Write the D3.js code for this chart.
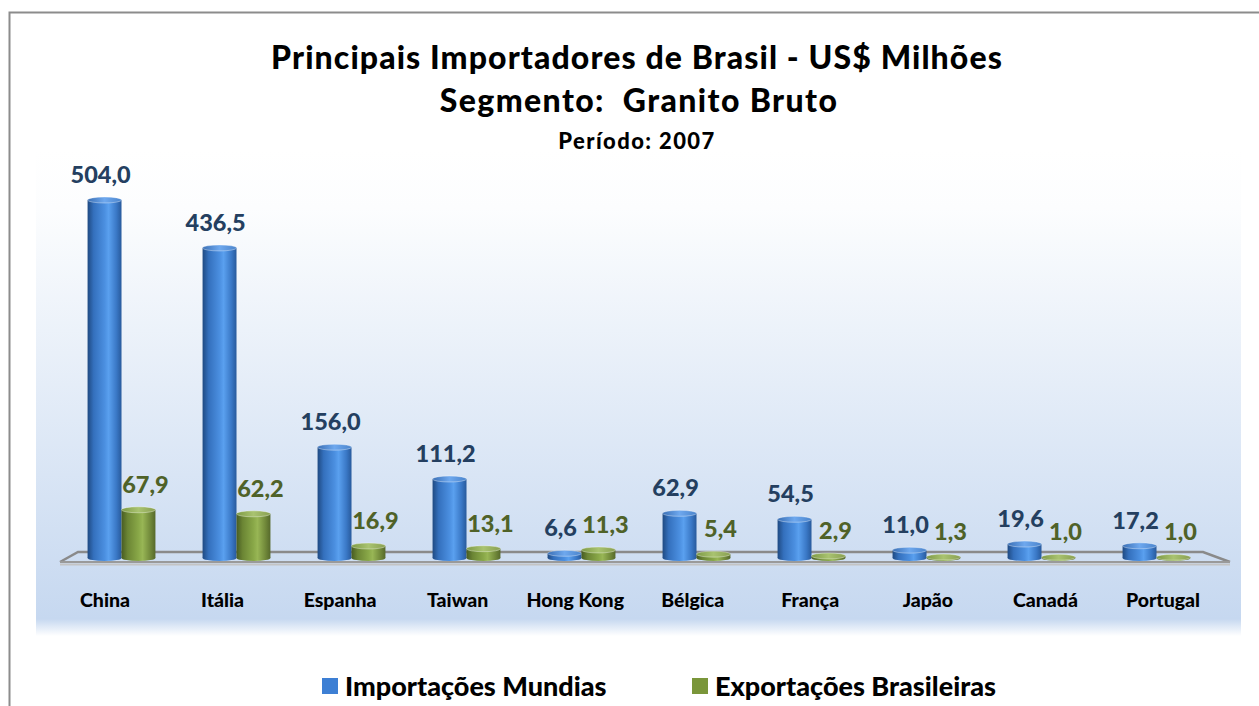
<!DOCTYPE html>
<html>
<head>
<meta charset="utf-8">
<script src="https://cdn.jsdelivr.net/npm/d3@7"></script>
<style>
  body { margin: 0; background: #fff; }
  text { font-family: Lato, "Open Sans", sans-serif; font-weight: 900; }
</style>
</head>
<body>
<div id="chart"></div>
<script>
//Data
const categories = ["China", "Itália", "Espanha", "Taiwan", "Hong Kong", "Bélgica", "França", "Japão", "Canadá", "Portugal"];
const importacoes = [504.0, 436.5, 156.0, 111.2, 6.6, 62.9, 54.5, 11.0, 19.6, 17.2];
const exportacoes = [67.9, 62.2, 16.9, 13.1, 11.3, 5.4, 2.9, 1.3, 1.0, 1.0];
const seriesNames = ["Importações Mundias", "Exportações Brasileiras"];

//Variables
let width = 1259, height = 706;
let fmt = v => d3.format(".1f")(v).replace(".", ",");

let svg = d3.select("#chart").append("svg")
  .attr("width", width)
  .attr("height", height);

let defs = svg.append("defs");

//Plot area background, white on top fading to light blue
let bg = defs.append("linearGradient").attr("id", "bgGrad")
  .attr("x1", 0).attr("y1", 0).attr("x2", 0).attr("y2", 1);
[[0, "#ffffff"], [0.12, "#fcfdfe"], [0.965, "#c6d8f0"], [1, "#ffffff"]].forEach(s =>
  bg.append("stop").attr("offset", s[0]).attr("stop-color", s[1]));

//Cylinder shading
function cyl(id, stops) {
  let g = defs.append("linearGradient").attr("id", id)
    .attr("x1", 0).attr("y1", 0).attr("x2", 1).attr("y2", 0);
  stops.forEach(s => g.append("stop").attr("offset", s[0]).attr("stop-color", s[1]));
}
cyl("blueGrad", [[0, "#1f4a82"], [0.18, "#3470bd"], [0.5, "#4b8fe0"], [0.62, "#5aa0ef"], [0.85, "#3a78c6"], [1, "#285a9c"]]);
cyl("greenGrad", [[0, "#485c22"], [0.18, "#6b8534"], [0.5, "#89a848"], [0.62, "#98b655"], [0.85, "#71893a"], [1, "#56692b"]]);
cyl("blueTop", [[0, "#3a6fb5"], [0.5, "#6ea8ee"], [1, "#4a84cc"]]);
cyl("greenTop", [[0, "#7e9a45"], [0.5, "#a9c370"], [1, "#889f50"]]);

//Outer border
svg.append("rect")
  .attr("x", 9.5).attr("y", 12.5)
  .attr("width", width + 20).attr("height", height + 20)
  .attr("fill", "none").attr("stroke", "#8c8c8c").attr("stroke-width", 2);

svg.append("rect")
  .attr("x", 36).attr("y", 150)
  .attr("width", 1205).attr("height", 486)
  .attr("fill", "url(#bgGrad)");

//Titles
svg.append("text").attr("x", 637).attr("y", 69).attr("text-anchor", "middle")
  .attr("font-size", 32).attr("fill", "#000").style("letter-spacing", "1.1px")
  .text("Principais Importadores de Brasil - US$ Milhões");
svg.append("text").attr("x", 639).attr("y", 112).attr("text-anchor", "middle")
  .attr("font-size", 32).attr("fill", "#000").style("letter-spacing", "1.4px")
  .attr("xml:space", "preserve")
  .text("Segmento:  Granito Bruto");
svg.append("text").attr("x", 637).attr("y", 149).attr("text-anchor", "middle")
  .attr("font-size", 22).attr("fill", "#000").style("letter-spacing", "1.4px")
  .text("Período: 2007");

//Scales
let x = d3.scaleBand().domain(categories).range([64, 1214]).paddingInner(0.41).paddingOuter(0.205);
let xs = d3.scaleBand().domain([0, 1]).range([0, x.bandwidth()]);
let xLabel = d3.scalePoint().domain(categories).range([105, 1163]);
let y = d3.scaleLinear().domain([0, 504]).range([558, 200]);

//Floor
let floor = svg.append("g");
floor.append("path")
  .attr("d", "M60,562 L78,552 L1203,552 L1230,562")
  .attr("fill", "none").attr("stroke", "#8a8a8a").attr("stroke-width", 2.5);
floor.append("line").attr("x1", 60).attr("x2", 1230).attr("y1", 562).attr("y2", 562)
  .attr("stroke", "#9a9a9a").attr("stroke-width", 2);
floor.append("line").attr("x1", 60).attr("x2", 1230).attr("y1", 564.5).attr("y2", 564.5)
  .attr("stroke", "#c4c4c4").attr("stroke-width", 2);

//Bars
let series = [
  {values: importacoes, fill: "url(#blueGrad)", top: "url(#blueTop)", label: "#243f60", dx: -4},
  {values: exportacoes, fill: "url(#greenGrad)", top: "url(#greenTop)", label: "#4f6228", dx: 7}
];

series.forEach((s, si) => {
  let g = svg.append("g");
  let bars = g.selectAll("g.bar")
    .data(categories.map((c, i) => ({c: c, v: s.values[i]})))
    .enter().append("g").attr("class", "bar")
      .attr("transform", d => "translate(" + (x(d.c) + xs(si)) + ",0)");
  let w = xs.bandwidth();
  let ry = 3;
  bars.append("ellipse")
    .attr("cx", w / 2).attr("cy", y(0)).attr("rx", w / 2).attr("ry", ry)
    .attr("fill", s.fill);
  bars.append("rect")
    .attr("x", 0).attr("width", w)
    .attr("y", d => y(d.v))
    .attr("height", d => y(0) - y(d.v))
    .attr("fill", s.fill);
  bars.append("ellipse")
    .attr("cx", w / 2).attr("cy", d => y(d.v)).attr("rx", w / 2).attr("ry", ry)
    .attr("fill", s.top).attr("stroke", "#ffffff").attr("stroke-opacity", 0.35).attr("stroke-width", 1);
  //Value labels
  bars.append("text")
    .attr("x", w / 2 + s.dx)
    .attr("y", d => y(d.v) - 17)
    .attr("text-anchor", "middle")
    .attr("font-size", 23.5)
    .attr("fill", s.label)
    .text(d => fmt(d.v));
});

//Category labels
svg.append("g").selectAll("text")
  .data(categories)
  .enter().append("text")
    .attr("x", d => xLabel(d))
    .attr("y", 607)
    .attr("text-anchor", "middle")
    .attr("font-size", 19.5)
    .attr("fill", "#000")
    .text(d => d);

//Legend
let legend = svg.append("g");
let legendX = [322, 692], legendColors = ["#3d7fd4", "#7a963a"];
seriesNames.forEach((n, i) => {
  legend.append("rect").attr("x", legendX[i]).attr("y", 678).attr("width", 16).attr("height", 16)
    .attr("fill", legendColors[i]);
  legend.append("text").attr("x", legendX[i] + 23).attr("y", 696)
    .attr("font-size", 27).attr("fill", "#000")
    .text(n);
});
</script>
</body>
</html>
